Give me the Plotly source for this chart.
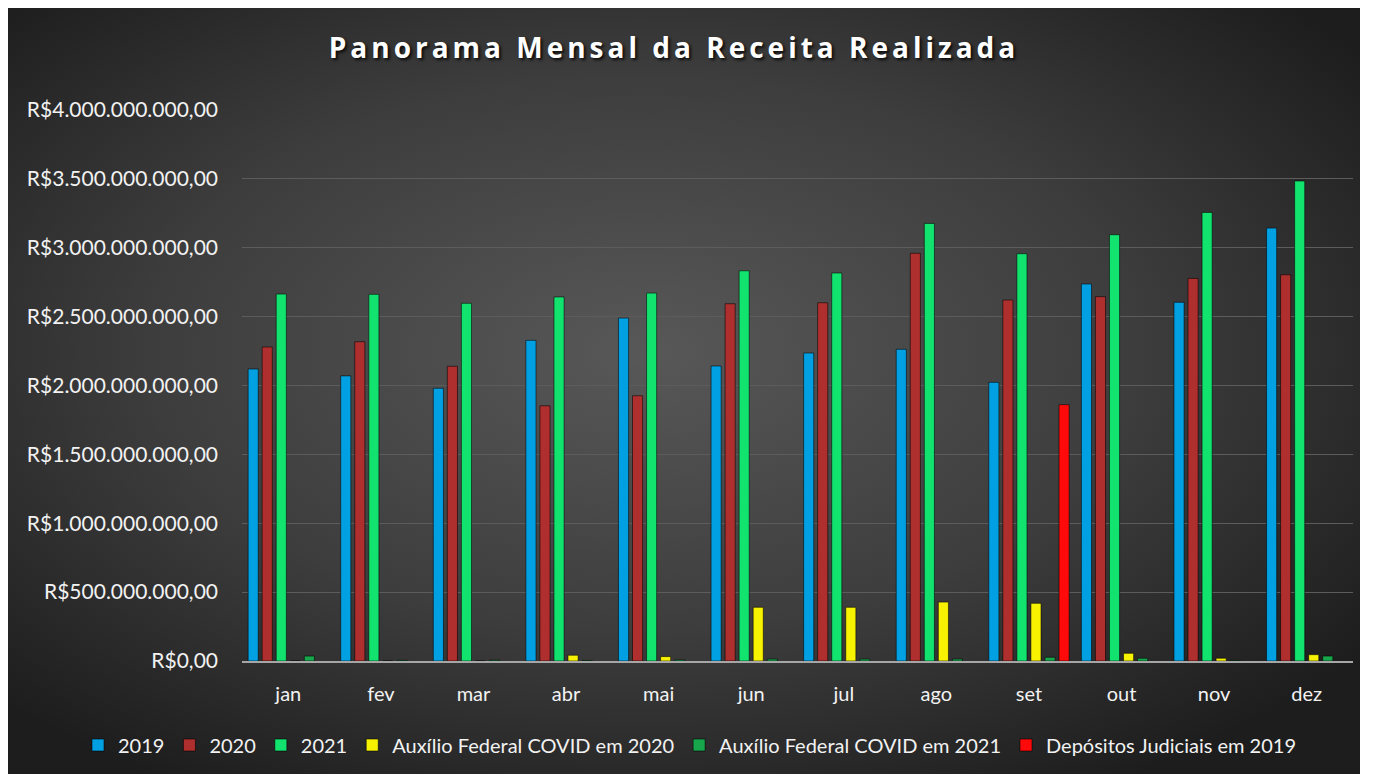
import base64
import plotly.graph_objects as go

months = ["jan", "fev", "mar", "abr", "mai", "jun", "jul", "ago", "set", "out", "nov", "dez"]

rec_2019 = [2.12e9, 2.07e9, 1.98e9, 2.328e9, 2.49e9, 2.142e9, 2.236e9, 2.263e9, 2.023e9, 2.737e9, 2.604e9, 3.143e9]
rec_2020 = [2.28e9, 2.318e9, 2.14e9, 1.853e9, 1.926e9, 2.594e9, 2.601e9, 2.96e9, 2.621e9, 2.645e9, 2.778e9, 2.804e9]
rec_2021 = [2.664e9, 2.662e9, 2.597e9, 2.643e9, 2.671e9, 2.833e9, 2.817e9, 3.177e9, 2.957e9, 3.095e9, 3.257e9, 3.485e9]
aux_2020 = [0, 0, 0, 42e6, 32e6, 390e6, 390e6, 428e6, 419e6, 56e6, 20e6, 46e6]
aux_2021 = [36e6, 5e6, 6e6, 4e6, 8e6, 14e6, 14e6, 14e6, 27e6, 20e6, 4e6, 36e6]
dep_2019 = [None, None, None, None, None, None, None, None, 1.861e9, None, None, None]

y_ticks = [0, 5e8, 1e9, 1.5e9, 2e9, 2.5e9, 3e9, 3.5e9, 4e9]


def brl(v):
    s = f"{v:,.2f}"
    s = s.replace(",", "_").replace(".", ",").replace("_", ".")
    return "R$" + s


series = [
    ("2019", rec_2019, "#00A0E2"),
    ("2020", rec_2020, "#AE2F2D"),
    ("2021", rec_2021, "#12E36F"),
    ("Auxílio Federal COVID em 2020", aux_2020, "#F7F200"),
    ("Auxílio Federal COVID em 2021", aux_2021, "#17A64C"),
    ("Depósitos Judiciais em 2019", dep_2019, "#FF0A0A"),
]

W, H = 1352, 766
ML, MR, MT, MB = 234, 7, 102, 113
PW, PH = W - ML - MR, H - MT - MB

fig = go.Figure()
for name, vals, col in series:
    fig.add_trace(go.Bar(
        x=months, y=vals, name=name,
        marker=dict(color=col, line=dict(color="rgba(0,0,0,0.55)", width=1)),
    ))

svg = (
    "<svg xmlns='http://www.w3.org/2000/svg' width='1352' height='766' preserveAspectRatio='none'>"
    "<defs><radialGradient id='g' cx='47%' cy='45%' r='66%'>"
    "<stop offset='0' stop-color='#585858'/><stop offset='0.55' stop-color='#3d3d3d'/>"
    "<stop offset='1' stop-color='#1d1d1d'/></radialGradient></defs>"
    "<rect width='100%' height='100%' fill='url(#g)'/></svg>"
)
src = "data:image/svg+xml;base64," + base64.b64encode(svg.encode()).decode()

fig.add_layout_image(
    source=src, xref="paper", yref="paper",
    x=-ML / PW, y=(H - MB) / PH,
    sizex=W / PW, sizey=H / PH,
    xanchor="left", yanchor="top", sizing="stretch", layer="below",
)

fig.update_layout(
    width=W, height=H,
    margin=dict(l=ML, r=MR, t=MT, b=MB, pad=0),
    paper_bgcolor="#2a2a2a",
    plot_bgcolor="rgba(0,0,0,0)",
    barmode="group",
    bargap=0.09,
    bargroupgap=0.28,
    title=dict(
        text="<b>Panorama Mensal da Receita Realizada</b>",
        x=666 / W, xanchor="center", xref="container",
        y=1 - 40 / H, yanchor="middle", yref="container",
        font=dict(family="Open Sans", size=28, color="#ffffff",
                  shadow="2px 2px 3px rgba(0,0,0,0.8)"),
    ),
    font=dict(family="Lato", color="#f2f2f2", size=19),
    xaxis=dict(
        showgrid=False, showline=True, linecolor="#a6a6a6", linewidth=2,
        ticks="", ticklabelstandoff=14,
        tickfont=dict(size=20, color="#f2f2f2"),
    ),
    yaxis=dict(
        range=[0, 4.0005e9], tickmode="array", tickvals=y_ticks,
        ticktext=[brl(v) for v in y_ticks],
        showgrid=True, gridcolor="#5c5c5c", gridwidth=1,
        zeroline=False, showline=False, ticks="", ticklabelstandoff=23,
        tickfont=dict(size=21, color="#f2f2f2"),
    ),
    legend=dict(
        orientation="h", xref="paper", x=(70 - ML) / PW, xanchor="left",
        yref="paper", y=-(737 - (H - MB)) / PH, yanchor="middle",
        font=dict(size=20, color="#f2f2f2"),
        bgcolor="rgba(0,0,0,0)", itemwidth=30, tracegroupgap=0,
    ),
    showlegend=True,
)

post = """
function fixTitle(){
  document.querySelectorAll('.gtitle').forEach(function(e){ e.style.letterSpacing='4px'; });
}
fixTitle(); setTimeout(fixTitle, 30); setTimeout(fixTitle, 200);
"""

fig.write_html("out.html", post_script=post)
